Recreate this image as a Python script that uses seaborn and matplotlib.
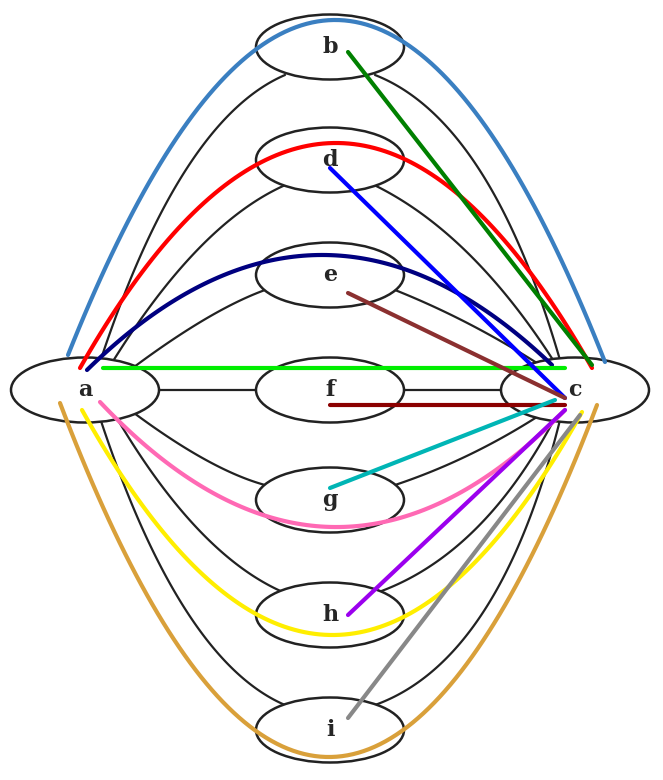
import numpy as np
import matplotlib
matplotlib.use("Agg")
import matplotlib.pyplot as plt
from matplotlib.patches import Ellipse
import seaborn as sns

sns.set_theme(style="white")

# node layout (pixel coordinates of the reference)
node_names = ["a", "b", "d", "e", "f", "g", "h", "i", "c"]
node_x = [85, 330, 330, 330, 330, 330, 330, 330, 575]
node_y = [390, 47, 160, 275, 390, 500, 615, 730, 390]

# black edges a->mid and mid->c: (start, control, end)
mid_nodes = ["b", "d", "e", "f", "g", "h", "i"]
left_start = [(100, 362), (110, 366), (130, 370), (160, 390), (130, 410), (115, 415), (100, 418)]
left_ctrl = [(180, 120), (200, 220), (210, 310), (210, 390), (210, 470), (200, 560), (180, 660)]
left_end = [(285, 75), (290, 183), (265, 290), (258, 390), (265, 485), (290, 595), (285, 705)]
right_start = [(375, 75), (370, 183), (395, 290), (402, 390), (395, 485), (370, 595), (375, 705)]
right_ctrl = [(490, 120), (470, 230), (470, 320), (460, 390), (470, 460), (480, 560), (500, 660)]
right_end = [(560, 360), (555, 363), (540, 365), (505, 390), (540, 415), (555, 418), (560, 420)]

# coloured curves a->c: start, end, lowest/highest point y
curve_colors = ["#3a7fc1", "red", "#000080", "#00ee00", "#ff69b4", "#ffee00", "#d9a03a"]
curve_start = [(68, 355), (80, 368), (87, 370), (103, 368), (100, 402), (82, 410), (60, 403)]
curve_end = [(605, 362), (592, 368), (552, 365), (565, 368), (565, 410), (582, 412), (597, 405)]
curve_peak = [20, 143, 255, 368, 527, 635, 757]

# coloured straight lines mid->c
line_colors = ["green", "blue", "#8b3030", "#8b0000", "#00b5b5", "#9b00ee", "#888888"]
line_start = [(348, 52), (330, 168), (348, 293), (330, 405), (330, 488), (348, 615), (348, 718)]
line_end = [(592, 365), (565, 398), (565, 398), (565, 405), (555, 400), (565, 410), (580, 415)]


def bezier(p0, p1, p2, n=100):
    t = np.linspace(0, 1, n)[:, None]
    p0, p1, p2 = map(np.array, (p0, p1, p2))
    pts = (1 - t) ** 2 * p0 + 2 * (1 - t) * t * p1 + t ** 2 * p2
    return pts[:, 0], pts[:, 1]


fig, ax = plt.subplots(figsize=(6.63, 7.8), dpi=100)
fig.subplots_adjust(0, 0, 1, 1)
ax.set_xlim(0, 663)
ax.set_ylim(780, 0)
ax.axis("off")

for s, c, e in zip(left_start + right_start, left_ctrl + right_ctrl, left_end + right_end):
    xs, ys = bezier(s, c, e)
    ax.plot(xs, ys, color="#222222", lw=1.6, zorder=1)

for x, y, n in zip(node_x, node_y, node_names):
    ax.add_patch(Ellipse((x, y), 148, 65, facecolor="white", edgecolor="#222222", lw=1.8, zorder=2))
    ax.text(x, y, n, ha="center", va="center", fontsize=16, fontweight="bold",
            family="DejaVu Serif", zorder=3)

for col, s, e, pk in zip(curve_colors, curve_start, curve_end, curve_peak):
    ctrl = ((s[0] + e[0]) / 2, 2 * pk - (s[1] + e[1]) / 2)
    xs, ys = bezier(s, ctrl, e)
    ax.plot(xs, ys, color=col, lw=3, zorder=4)

for col, s, e in zip(line_colors, line_start, line_end):
    ax.plot([s[0], e[0]], [s[1], e[1]], color=col, lw=3, zorder=4)

fig.savefig("out.png", dpi=100)
